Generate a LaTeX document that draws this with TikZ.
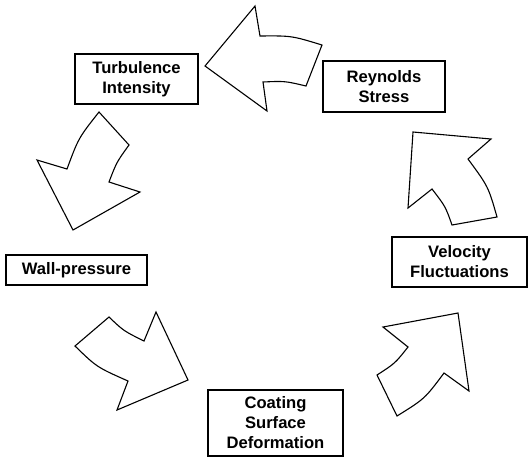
\documentclass[tikz,border=0pt]{standalone}
\usepackage{fontspec}
\setmainfont{Liberation Sans}
\begin{document}
\begin{tikzpicture}[x=0.5pt,y=-0.5pt,
  box/.style={draw,line width=1pt,inner sep=0pt,align=center,
    font=\fontsize{8.3}{10}\selectfont\bfseries},
  bigarrow/.style={draw,line width=0.55pt,line join=miter,fill=white}]
\useasboundingbox (0,0) rectangle (528,461);
% boxes
\node[box,minimum width=61.5pt,minimum height=25pt] (ti) at (136.5,79) {Turbulence\\Intensity};
\node[box,minimum width=61pt,minimum height=25.5pt] (rs) at (384,86.5) {Reynolds\\Stress};
\node[box,minimum width=70.5pt,minimum height=15pt] (wp) at (76.5,270) {Wall-pressure};
\node[box,minimum width=67.5pt,minimum height=25pt] (vf) at (459.5,262) {Velocity\\Fluctuations};
\node[box,minimum width=67.5pt,minimum height=33pt] (cs) at (275.5,423) {Coating\\Surface\\Deformation};
% arrow 1: Reynolds -> Turbulence (pointing left)
\draw[bigarrow] (205,66) -- (255,6) -- (260,36) .. controls (291.6,35.7) .. (322,45)
  -- (306,86) .. controls (284.9,81) .. (263,82) -- (267,111) -- cycle;
% arrow 2: Turbulence -> Wall-pressure (pointing down-left)
\draw[bigarrow] (99,112) -- (129,145) .. controls (116.6,162.2) .. (109,182)
  -- (140,192) -- (73,230) -- (37,160) -- (67,169) .. controls (78.5,138) .. cycle;
% arrow 3: Wall-pressure -> Coating (pointing down-right)
\draw[bigarrow] (109,317) -- (75,346) .. controls (96.7,367.1) .. (128,381)
  -- (117,410) -- (188,380) -- (156,312) -- (144,341) .. controls (123.6,330.9) .. cycle;
% arrow 4: Coating -> Velocity (pointing up-right)
\draw[bigarrow] (383,327) -- (458,313) -- (469,391) -- (444,373)
  .. controls (424.8,398.7) .. (397,416) -- (377,375) .. controls (395,363.4) .. (408,347) -- cycle;
% arrow 5: Velocity -> Reynolds (pointing up)
\draw[bigarrow] (413,132) -- (491,139) -- (468,159) .. controls (488.3,186.6) .. (497,217)
  -- (452,225) .. controls (445.4,206.4) .. (432,189) -- (408,208) -- cycle;
\end{tikzpicture}
\end{document}
